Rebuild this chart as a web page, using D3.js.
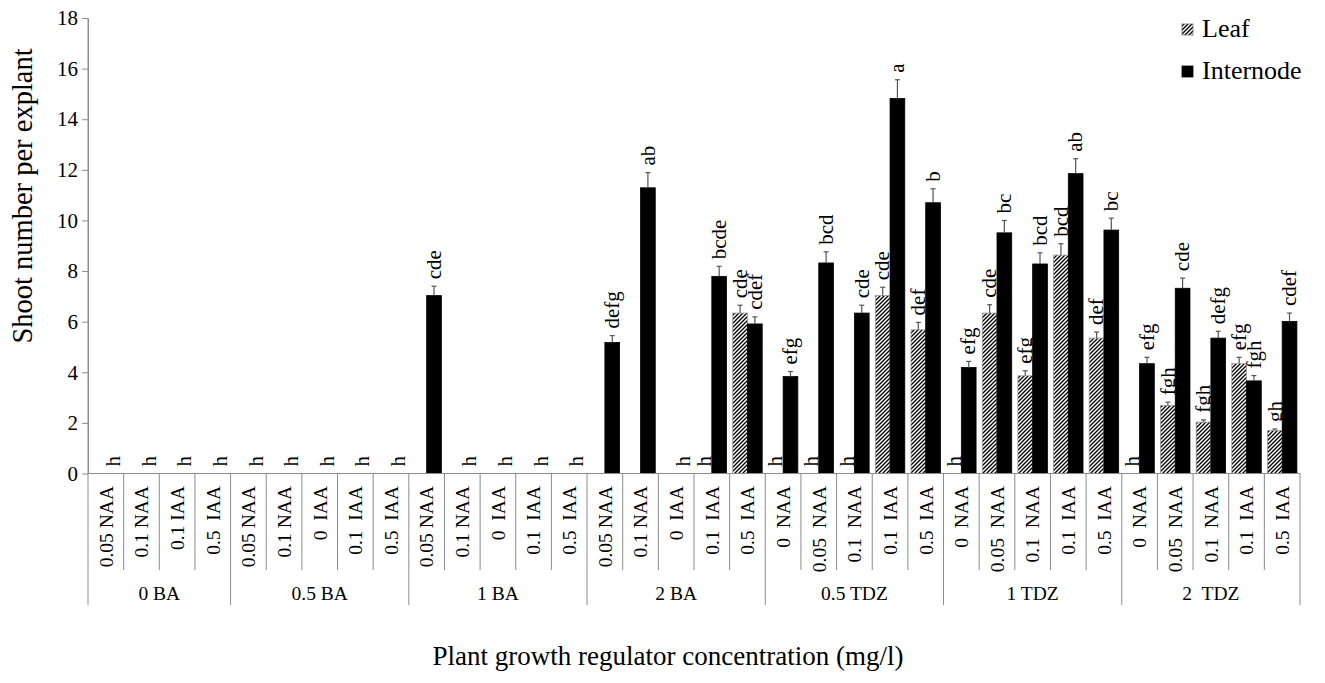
<!DOCTYPE html>
<html>
<head>
<meta charset="utf-8">
<script src="https://cdn.jsdelivr.net/npm/d3@7"></script>
<style>
  html, body { margin: 0; padding: 0; background: #fff; }
  svg { display: block; }
  svg text { font-family: "Liberation Serif", "Times New Roman", serif; white-space: pre; fill: #000; }
</style>
</head>
<body>
<svg id="chart" width="1325" height="683" font-family="Liberation Serif"></svg>
<script>
// Treatment groups (cytokinin) and the auxin treatment within each group
const groups = ["0 BA", "0.5 BA", "1 BA", "2 BA", "0.5 TDZ", "1 TDZ", "2  TDZ"];
const groupSizes = [4, 5, 5, 5, 5, 5, 5];
const treatments = [
  "0.05 NAA", "0.1 NAA", "0.1 IAA", "0.5  IAA",
  "0.05 NAA", "0.1 NAA", "0  IAA", "0.1  IAA", "0.5  IAA",
  "0.05 NAA", "0.1 NAA", "0  IAA", "0.1  IAA", "0.5  IAA",
  "0.05 NAA", "0.1 NAA", "0  IAA", "0.1  IAA", "0.5  IAA",
  "0  NAA", "0.05  NAA", "0.1  NAA", "0.1  IAA", "0.5  IAA",
  "0  NAA", "0.05  NAA", "0.1  NAA", "0.1  IAA", "0.5  IAA",
  "0  NAA", "0.05  NAA", "0.1  NAA", "0.1  IAA", "0.5  IAA"
];

// Leaf explants: mean shoots, standard error, significance letters
const leafValues = [
  0, 0, 0, 0,
  0, 0, 0, 0, 0,
  0, 0, 0, 0, 0,
  0, 0, 0, 0, 6.34,
  0, 0, 0, 7.03, 5.68,
  0, 6.34, 3.86, 8.63, 5.35,
  0, 2.69, 2.03, 4.34, 1.70
];
const leafErrors = [
  0, 0, 0, 0,
  0, 0, 0, 0, 0,
  0, 0, 0, 0, 0,
  0, 0, 0, 0, 0.31,
  0, 0, 0, 0.33, 0.29,
  0, 0.33, 0.20, 0.45, 0.24,
  0, 0.13, 0.09, 0.25, 0.06
];
const leafLetters = [
  "", "", "", "",
  "", "", "", "", "",
  "", "", "", "", "",
  "", "", "", "h", "cde",
  "h", "h", "h", "cde", "def",
  "h", "cde", "efg", "bcd", "def",
  "h", "fgh", "fgh", "efg", "gh"
];

// Internode explants: mean shoots, standard error, significance letters
const internodeValues = [
  0, 0, 0, 0,
  0, 0, 0, 0, 0,
  7.03, 0, 0, 0, 0,
  5.18, 11.29, 0, 7.79, 5.91,
  3.83, 8.32, 6.34, 14.82, 10.70,
  4.19, 9.51, 8.28, 11.85, 9.62,
  4.34, 7.32, 5.35, 3.66, 6.01
];
const internodeErrors = [
  0, 0, 0, 0,
  0, 0, 0, 0, 0,
  0.37, 0, 0, 0, 0,
  0.27, 0.60, 0, 0.40, 0.28,
  0.20, 0.44, 0.31, 0.74, 0.55,
  0.24, 0.49, 0.44, 0.59, 0.47,
  0.25, 0.40, 0.27, 0.21, 0.33
];
const internodeLetters = [
  "h", "h", "h", "h",
  "h", "h", "h", "h", "h",
  "cde", "h", "h", "h", "h",
  "defg", "ab", "h", "bcde", "cdef",
  "efg", "bcd", "cde", "a", "b",
  "efg", "bc", "bcd", "ab", "bc",
  "efg", "cde", "defg", "fgh", "cdef"
];

const yTicks = [0, 2, 4, 6, 8, 10, 12, 14, 16, 18];
const seriesNames = ["Leaf", "Internode"];

const svg = d3.select("#chart");
const FONT = "Liberation Serif";
const axisColor = "#8c8c8c";
const plotLeft = 88, plotRight = 1300, plotTop = 18, plotBottom = 473.5;

const y = d3.scaleLinear().domain([0, 18]).range([plotBottom, plotTop]);
const x = d3.scaleBand().domain(d3.range(treatments.length)).range([plotLeft, plotRight]).padding(0);
const xs = d3.scaleBand().domain(seriesNames).range([0, x.bandwidth()])
  .paddingInner(0).paddingOuter(0.21);

// diagonal hatch for leaf bars
const defs = svg.append("defs");
const pat = defs.append("pattern").attr("id", "hatch")
  .attr("patternUnits", "userSpaceOnUse").attr("width", 4).attr("height", 4);
pat.append("rect").attr("width", 4).attr("height", 4).attr("fill", "#fff");
pat.append("path").attr("d", "M-1,1 l2,-2 M0,4 l4,-4 M3,5 l2,-2")
  .attr("stroke", "#000").attr("stroke-width", 1.3);

const fills = { Leaf: "url(#hatch)", Internode: "#000" };

const rows = [];
treatments.forEach((t, i) => {
  rows.push({ i, s: "Leaf", v: leafValues[i], e: leafErrors[i], l: leafLetters[i] });
  rows.push({ i, s: "Internode", v: internodeValues[i], e: internodeErrors[i], l: internodeLetters[i] });
});

// y axis
const yAxis = d3.axisLeft(y).tickValues(yTicks).tickSize(6).tickSizeOuter(0).tickPadding(4);
const gy = svg.append("g").attr("transform", `translate(${plotLeft},0)`).call(yAxis)
  .attr("font-family", FONT).attr("font-size", 21);
gy.select(".domain").attr("stroke", axisColor);
gy.selectAll(".tick line").attr("stroke", axisColor);
gy.selectAll(".tick text").attr("fill", "#000").attr("font-family", FONT).attr("font-size", 21);

// bars
const bars = rows.filter(d => d.v > 0);
svg.append("g").selectAll("rect").data(bars).join("rect")
  .attr("x", d => x(d.i) + xs(d.s))
  .attr("y", d => y(d.v))
  .attr("width", xs.bandwidth())
  .attr("height", d => y(0) - y(d.v))
  .attr("fill", d => fills[d.s])
  .attr("stroke", d => d.s === "Leaf" ? "#9a9a9a" : "#000")
  .attr("stroke-width", 0.8);

// error bars
const eb = svg.append("g").attr("stroke", "#555").attr("stroke-width", 1.2);
bars.filter(d => d.e > 0).forEach(d => {
  const cx = x(d.i) + xs(d.s) + xs.bandwidth() / 2;
  eb.append("line").attr("x1", cx).attr("x2", cx).attr("y1", y(d.v)).attr("y2", y(d.v + d.e));
  eb.append("line").attr("x1", cx - 2.5).attr("x2", cx + 2.5).attr("y1", y(d.v + d.e)).attr("y2", y(d.v + d.e));
});

// significance letters
svg.append("g").selectAll("text").data(rows.filter(d => d.l)).join("text")
  .attr("transform", d => {
    const cx = x(d.i) + xs(d.s) + xs.bandwidth() / 2;
    return `translate(${cx},${y(d.v + d.e) - 7}) rotate(-90)`;
  })
  .attr("dy", "0.32em")
  .attr("font-family", FONT).attr("font-size", 21)
  .text(d => d.l);

// x axis baseline
svg.append("line").attr("x1", plotLeft).attr("x2", plotRight).attr("y1", plotBottom).attr("y2", plotBottom)
  .attr("stroke", axisColor);

// category separators and group separators
const groupStarts = [];
let acc = 0;
groupSizes.forEach(n => { groupStarts.push(acc); acc += n; });
const sep = svg.append("g").attr("stroke", axisColor).attr("stroke-width", 1);
for (let k = 0; k <= treatments.length; k++) {
  const xp = k < treatments.length ? x(k) : plotRight;
  const isGroup = k === treatments.length || groupStarts.includes(k);
  sep.append("line").attr("x1", xp).attr("x2", xp)
    .attr("y1", k === 0 ? plotTop : plotBottom).attr("y2", isGroup ? 605 : 570);
}

// treatment labels
svg.append("g").selectAll("text").data(treatments).join("text")
  .attr("transform", (d, i) => `translate(${x(i) + x.bandwidth() / 2},486) rotate(-90)`)
  .attr("text-anchor", "end")
  .attr("dy", "0.35em")
  .attr("font-family", FONT).attr("font-size", 19.5)
  .text(d => d);

// group labels
svg.append("g").selectAll("text").data(groups).join("text")
  .attr("x", (d, g) => {
    const s = groupStarts[g], n = groupSizes[g];
    return (x(s) + (s + n < treatments.length ? x(s + n) : plotRight)) / 2;
  })
  .attr("y", 600)
  .attr("text-anchor", "middle")
  .attr("font-family", FONT).attr("font-size", 19.5)
  .text(d => d);

// axis titles
svg.append("text").attr("x", 668).attr("y", 665).attr("text-anchor", "middle")
  .attr("font-family", FONT).attr("font-size", 27)
  .text("Plant growth regulator concentration (mg/l)");
svg.append("text").attr("transform", "translate(32,196) rotate(-90)").attr("text-anchor", "middle")
  .attr("font-family", FONT).attr("font-size", 28.5)
  .text("Shoot number per explant");

// legend
const legend = svg.append("g");
seriesNames.forEach((s, k) => {
  const yy = k === 0 ? 24 : 66;
  legend.append("rect").attr("x", 1182).attr("y", yy).attr("width", 11).attr("height", 11)
    .attr("fill", fills[s]).attr("stroke", s === "Leaf" ? "#777" : "#000").attr("stroke-width", 0.8);
  legend.append("text").attr("x", 1202).attr("y", yy + 13)
    .attr("font-family", FONT).attr("font-size", 26)
    .text(s);
});
</script>
</body>
</html>
